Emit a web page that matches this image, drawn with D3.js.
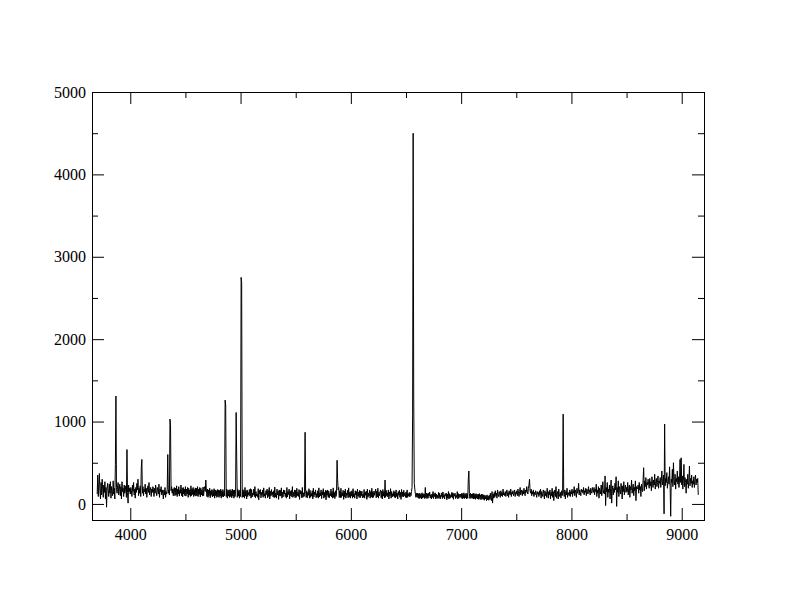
<!DOCTYPE html>
<html><head><meta charset="utf-8">
<script src="https://cdn.jsdelivr.net/npm/d3@7"></script>
<style>body{margin:0;background:#fff}</style>
</head><body>
<svg id="c" width="792" height="612"></svg>
<script>
const waveStart = 3700;
const waveStep = 5;
const flux = [
 120,350,90,240,370,150,60,260,110,300,180,80,230,140,270,60,200,-40,190,250,
 160,90,240,130,270,70,210,150,100,280,120,190,60,480,1310,200,130,220,260,110,
 180,240,100,210,60,270,150,190,90,230,130,170,220,80,660,140,10,230,150,190,
 120,200,160,90,230,150,260,110,180,70,200,140,250,170,300,100,190,130,220,90,
 440,540,130,210,100,180,150,240,120,190,80,170,220,140,260,110,160,200,90,180,
 140,210,170,90,190,130,230,150,100,200,160,120,240,80,180,150,210,110,170,130,
 60,170,110,200,80,150,120,180,600,130,170,110,1030,960,160,210,130,180,100,190,
 200,100,190,110,220,90,180,120,210,95,170,130,230,100,190,85,200,120,180,100,
 210,95,180,120,200,80,190,110,170,90,220,100,185,115,200,90,175,105,195,95,
 190,100,210,90,180,115,200,85,190,110,170,95,205,100,185,210,150,290,170,90,
 180,80,170,100,190,75,160,105,175,85,165,95,185,70,170,100,160,80,175,90,
 170,80,165,95,180,70,160,90,175,85,150,100,1260,1200,90,180,70,165,95,170,
 80,175,90,160,75,180,95,165,70,170,90,155,1110,560,80,175,95,160,70,170,
 90,2750,2690,80,175,85,165,70,200,95,160,60,170,90,140,110,175,95,185,70,
 175,85,130,110,180,90,210,75,150,95,120,80,185,50,165,120,175,75,140,105,
 170,80,195,95,125,70,160,115,180,75,165,90,200,60,155,95,175,110,145,85,
 160,75,205,85,130,70,180,110,155,55,170,100,165,95,195,70,140,85,170,120,
 165,90,130,70,200,85,150,115,180,60,155,100,165,85,210,80,140,95,170,75,
 165,80,190,100,140,90,175,55,165,120,155,75,200,80,135,90,110,870,150,80,
 160,75,140,105,185,70,165,80,130,95,160,60,190,85,145,110,170,75,125,85,
 160,70,195,85,135,100,170,65,150,110,185,70,140,85,165,50,160,105,170,80,
 155,75,125,100,180,85,150,70,195,80,140,65,160,90,120,530,300,170,200,80,
 160,75,190,80,135,100,165,55,155,85,180,70,130,105,165,75,195,85,140,70,
 150,95,160,70,185,85,125,70,160,110,150,60,180,95,140,80,165,75,155,100,
 155,75,120,80,175,70,145,105,155,55,180,80,130,95,170,70,150,85,190,75,
 150,80,155,105,135,180,75,155,85,190,70,140,100,150,170,75,155,60,175,95,
 150,75,290,80,165,100,135,85,170,60,145,100,185,70,150,85,125,95,160,80,
 145,75,170,90,130,60,150,105,165,80,140,55,175,90,145,85,165,100,130,80,
 145,75,170,80,125,95,140,85,135,100,150,200,1090,4500,1310,250,180,120,80,130,
 85,130,70,125,65,130,75,120,60,135,70,125,80,120,65,200,75,130,65,125,
 70,130,95,145,75,110,60,120,80,150,65,125,90,135,60,120,75,105,65,140,
 75,130,60,105,90,135,65,145,80,110,60,125,100,130,50,120,70,150,60,125,
 70,110,85,140,75,135,55,125,95,130,65,105,80,150,60,125,70,115,85,120,
 75,130,60,125,70,135,65,120,75,130,60,125,70,300,400,125,65,130,70,120,
 70,125,60,130,65,120,55,125,70,115,60,120,55,125,65,110,50,120,60,115,
 55,110,45,105,60,100,40,110,50,95,45,105,55,130,60,40,150,10,120,70,
 140,80,160,100,130,70,170,110,90,150,120,80,160,100,140,90,180,110,130,100,
 150,90,130,170,100,140,80,160,120,110,180,90,140,120,160,100,130,170,90,140,
 120,160,100,180,130,90,150,200,110,140,170,100,160,120,190,130,100,170,140,210,
 150,120,190,230,300,160,130,180,100,150,120,170,90,140,110,160,130,80,150,120,
 140,90,160,110,180,70,150,120,90,170,130,60,160,100,140,80,190,120,70,150,
 110,170,60,140,100,190,80,150,40,130,170,90,210,70,120,150,60,180,110,90,
 140,70,160,100,120,1090,130,90,170,60,150,110,190,80,140,120,100,170,90,150,
 120,180,90,160,130,210,100,170,140,80,190,130,150,250,110,170,140,100,180,150,
 170,130,200,110,160,140,190,100,180,150,120,210,140,170,110,190,150,130,200,160,
 140,200,110,180,150,240,90,170,130,210,70,190,160,120,230,100,180,270,130,160,
 120,340,-20,200,150,260,80,180,140,230,60,190,290,10,170,220,110,190,140,250,
 170,330,-30,200,140,280,90,210,160,120,250,180,60,220,150,270,110,190,230,140,
 200,150,260,110,190,230,80,210,170,290,130,180,240,100,200,160,280,40,210,180,
 190,230,130,260,170,210,90,240,180,150,300,440,160,280,210,320,180,260,230,300,
 240,190,310,220,270,160,330,250,200,290,230,360,180,270,310,210,260,340,190,280,
 250,320,200,290,400,230,280,350,-120,970,220,310,260,380,190,270,330,240,450,200,
 -150,300,260,420,210,500,280,230,360,180,310,270,400,240,330,200,290,540,260,560,
 230,340,180,290,480,210,320,260,130,300,240,360,190,280,460,220,310,250,350,200,
 280,240,330,200,290,350,230,300,260,310,110
];
const xMajor = [4000, 5000, 6000, 7000, 8000, 9000];
const xMinor = [4500, 5500, 6500, 7500, 8500];
const yMajor = [0, 1000, 2000, 3000, 4000, 5000];
const yMinor = [500, 1500, 2500, 3500, 4500];

const L = 92, R = 704, T = 92, B = 520;
const svg = d3.select("#c");
const x = d3.scaleLinear().domain([3653, 9202]).range([L, R]);
const y = d3.scaleLinear().domain([-195, 5000]).range([B, T]);

const pts = flux.map((v, i) => [waveStart + i * waveStep, v]);

svg.append("clipPath").attr("id", "clp").append("rect")
  .attr("x", L).attr("y", T).attr("width", R - L).attr("height", B - T);

svg.append("path")
  .datum(pts)
  .attr("clip-path", "url(#clp)")
  .attr("fill", "none")
  .attr("stroke", "#000")
  .attr("stroke-width", 1)
  .attr("d", d3.line().x(d => x(d[0])).y(d => y(d[1])));

const font = "'Liberation Serif', 'Times New Roman', 'DejaVu Serif', serif";

function styleAxis(g) {
  g.attr("font-family", null).attr("font-size", null);
  g.select(".domain").remove();
  g.selectAll("line").attr("stroke", "#000").attr("stroke-width", 1);
  g.selectAll("text").style("font-family", font).style("font-size", "16px").attr("fill", "#000");
}

svg.append("g").attr("transform", `translate(0,${B})`)
  .call(d3.axisBottom(x).tickValues(xMajor).tickFormat(d3.format("d")).tickSize(-12).tickPadding(9))
  .call(styleAxis);
svg.append("g").attr("transform", `translate(0,${B})`)
  .call(d3.axisBottom(x).tickValues(xMinor).tickFormat("").tickSize(-6))
  .call(styleAxis);
svg.append("g").attr("transform", `translate(0,${T})`)
  .call(d3.axisTop(x).tickValues(xMajor).tickFormat("").tickSize(-12))
  .call(styleAxis);
svg.append("g").attr("transform", `translate(0,${T})`)
  .call(d3.axisTop(x).tickValues(xMinor).tickFormat("").tickSize(-6))
  .call(styleAxis);

svg.append("g").attr("transform", `translate(${L},0)`)
  .call(d3.axisLeft(y).tickValues(yMajor).tickFormat(d3.format("d")).tickSize(-12).tickPadding(6))
  .call(styleAxis);
svg.append("g").attr("transform", `translate(${L},0)`)
  .call(d3.axisLeft(y).tickValues(yMinor).tickFormat("").tickSize(-6))
  .call(styleAxis);
svg.append("g").attr("transform", `translate(${R},0)`)
  .call(d3.axisRight(y).tickValues(yMajor).tickFormat("").tickSize(-12))
  .call(styleAxis);
svg.append("g").attr("transform", `translate(${R},0)`)
  .call(d3.axisRight(y).tickValues(yMinor).tickFormat("").tickSize(-6))
  .call(styleAxis);

svg.append("rect")
  .attr("x", L + 0.5).attr("y", T + 0.5)
  .attr("width", R - L).attr("height", B - T)
  .attr("fill", "none").attr("stroke", "#000").attr("stroke-width", 1);
</script>
</body></html>
